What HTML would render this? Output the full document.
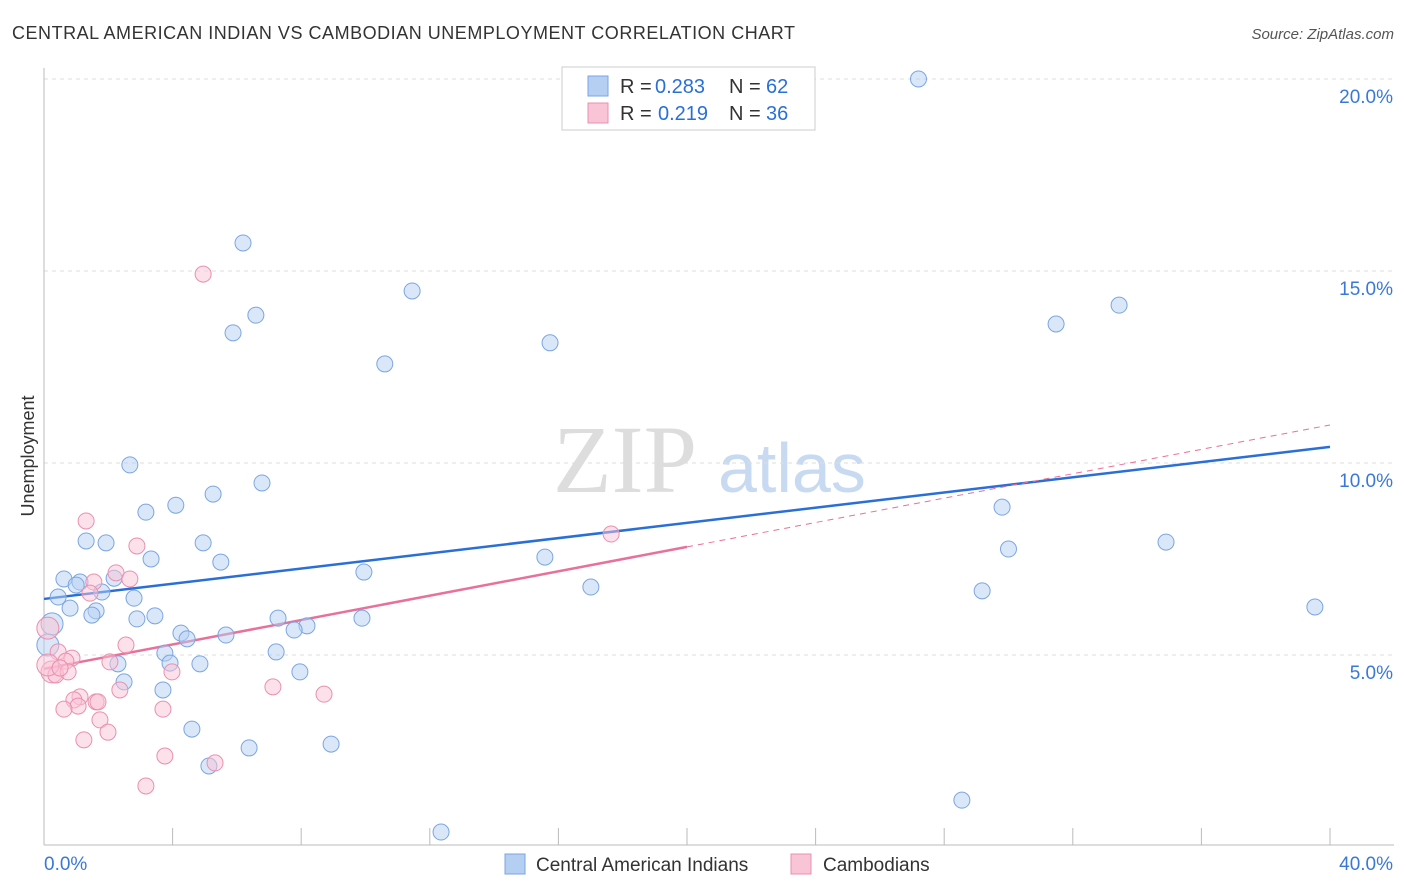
<!DOCTYPE html>
<html><head><meta charset="utf-8"><style>
body{margin:0;background:#fff;font-family:"Liberation Sans",sans-serif;}
svg{display:block}
</style></head><body>
<svg id="chart" width="1406" height="892" xmlns="http://www.w3.org/2000/svg">
<text x="12" y="39" font-size="18" fill="#333" textLength="783" lengthAdjust="spacing">CENTRAL AMERICAN INDIAN VS CAMBODIAN UNEMPLOYMENT CORRELATION CHART</text>
<text x="1394" y="39" font-size="15" fill="#555" text-anchor="end" font-style="italic">Source: ZipAtlas.com</text>
<text x="34" y="456" font-size="18" fill="#333" transform="rotate(-90 34 456)" text-anchor="middle">Unemployment</text>
<g><text x="553" y="492" font-size="96" fill="#ddd" font-family="Liberation Serif,serif">ZIP</text><text x="718" y="492" font-size="70" fill="#c8daf2">atlas</text></g>
<g id="grid"></g><g id="axes"></g><g id="lines"></g><g id="pts"></g>
<g>
<rect x="562" y="67" width="253" height="63" fill="#fff" stroke="#ccc"/>
<rect x="588" y="76" width="20" height="20" fill="#b5cff3" stroke="#7aa6e0"/>
<rect x="588" y="103" width="20" height="20" fill="#f9c4d6" stroke="#e890b0"/>
<text x="620" y="93" font-size="20" fill="#333">R =</text><text x="655" y="93" font-size="20" fill="#2a6fd8">0.283</text>
<text x="729" y="93" font-size="20" fill="#333">N =</text><text x="766" y="93" font-size="20" fill="#2a6fd8">62</text>
<text x="620" y="120" font-size="20" fill="#333">R =</text><text x="658" y="120" font-size="20" fill="#2a6fd8">0.219</text>
<text x="729" y="120" font-size="20" fill="#333">N =</text><text x="766" y="120" font-size="20" fill="#2a6fd8">36</text>
</g>
<g>
<rect x="505" y="854" width="20" height="20" fill="#b5cff3" stroke="#7aa6e0"/>
<text x="536" y="871" font-size="19" fill="#333">Central American Indians</text>
<rect x="791" y="854" width="20" height="20" fill="#f9c4d6" stroke="#e890b0"/>
<text x="823" y="871" font-size="19" fill="#333">Cambodians</text>
</g>
</svg>
<script>
const blueX=[27.2,6.19,6.59,5.88,11.45,10.6,15.74,31.48,33.44,2.67,6.78,5.26,4.1,3.17,1.31,1.93,4.95,3.33,5.5,9.95,15.58,29.8,30.0,34.9,17.01,29.18,39.53,0.62,1.12,1.0,2.18,1.8,0.44,0.81,1.62,1.49,2.8,2.89,3.45,7.28,8.18,7.78,9.89,4.26,4.45,5.66,0.25,0.12,3.76,7.22,3.92,4.85,2.3,7.96,2.49,3.7,4.6,6.38,8.93,5.13,28.55,12.35];
const blueY=[20.0,15.73,13.85,13.39,14.48,12.58,13.13,13.62,14.11,9.95,9.48,9.19,8.9,8.72,7.97,7.92,7.92,7.5,7.42,7.16,7.55,8.85,7.76,7.94,6.77,6.67,6.25,6.98,6.9,6.82,7.0,6.64,6.51,6.22,6.15,6.04,6.48,5.94,6.02,5.96,5.76,5.65,5.96,5.57,5.42,5.52,5.81,5.26,5.05,5.08,4.79,4.77,4.77,4.56,4.3,4.09,3.07,2.58,2.68,2.11,1.22,0.39];
const pinkX=[4.95,1.31,2.89,17.64,2.24,2.67,1.55,1.43,2.55,0.12,0.44,0.87,0.68,2.05,0.25,0.37,0.75,3.98,7.12,8.71,2.36,1.12,0.93,1.06,0.62,1.62,1.68,3.7,1.74,1.99,1.24,3.76,5.32,3.17,0.12,0.5];
const pinkY=[14.92,8.49,7.84,8.15,7.14,6.98,6.9,6.61,5.26,5.7,5.08,4.92,4.84,4.82,4.56,4.48,4.56,4.56,4.17,3.98,4.09,3.91,3.83,3.67,3.59,3.78,3.78,3.59,3.31,2.99,2.79,2.37,2.19,1.59,4.74,4.66];
const yTicks=[5,10,15,20];
const yTickLabels=["5.0%","10.0%","15.0%","20.0%"];
const blueTrend=[6.46,10.42];
const pinkTrend=[4.64,10.99];
const NS="http://www.w3.org/2000/svg";
const xs=v=>44+v*32.15, ys=v=>847-v*38.4;
function mk(t,a,p){const e=document.createElementNS(NS,t);for(const k in a)e.setAttribute(k,a[k]);document.getElementById(p).appendChild(e);return e;}
yTicks.forEach((t,i)=>{
 const l=mk('line',{x1:44,x2:1394,y1:ys(t),y2:ys(t),stroke:'#ddd','stroke-dasharray':'4,4'},'grid');
 
 
 const tx=mk('text',{x:1393,y:ys(t)+24,'font-size':19,fill:'#3a78d8','text-anchor':'end'},'grid');
 tx.textContent=yTickLabels[i];
 
 
});
let ax=mk('line',{x1:44,x2:1394,y1:845,y2:845,stroke:'#bbb'},'axes');


let ay=mk('line',{x1:44,x2:44,y1:68,y2:845,stroke:'#bbb'},'axes');


for(let i=0;i<=10;i++){const t=mk('line',{x1:xs(i*4),x2:xs(i*4),y1:828,y2:845,stroke:'#bbb'},'axes');
 
 }
let x0=mk('text',{x:44,y:870,'font-size':19,fill:'#3a78d8'},'axes');x0.textContent='0.0%';


let x1=mk('text',{x:1393,y:870,'font-size':19,fill:'#3a78d8','text-anchor':'end'},'axes');x1.textContent='40.0%';


function pts(X,Y,f,s,nm){X.forEach((x,i)=>{const r=(x<0.3)?11:8;const c=mk('circle',{cx:xs(x),cy:ys(Y[i]),r:r,fill:f,'fill-opacity':0.5,stroke:s,'stroke-width':1},'pts');
 
 });}
pts(blueX,blueY,'#b5cff3','#7aa6e0','central-american-indian-point');
pts(pinkX,pinkY,'#f9c4d6','#e890b0','cambodian-point');
let bl=mk('line',{x1:xs(0),y1:ys(blueTrend[0]),x2:xs(40),y2:ys(blueTrend[1]),stroke:'#2a6fd8','stroke-width':2.5},'lines');


const pm=pinkTrend[0]+(pinkTrend[1]-pinkTrend[0])/2;
let pl=mk('line',{x1:xs(0),y1:ys(pinkTrend[0]),x2:xs(20),y2:ys(pm),stroke:'#e8709a','stroke-width':2.5},'lines');


let pd=mk('line',{x1:xs(20),y1:ys(pm),x2:xs(40),y2:ys(pinkTrend[1]),stroke:'#e8709a','stroke-width':1,'stroke-dasharray':'6,5'},'lines');


</script>
</body></html>
